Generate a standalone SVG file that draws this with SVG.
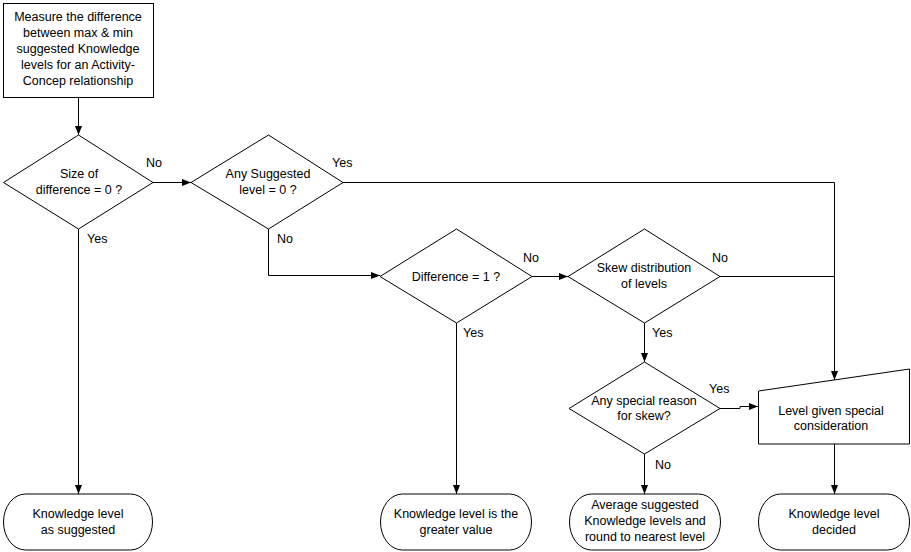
<svg xmlns="http://www.w3.org/2000/svg" width="911" height="552" viewBox="0 0 911 552">
<style>
.s{fill:#fff;stroke:#000;stroke-width:1}
.c{fill:none;stroke:#000;stroke-width:1}
text{font-family:"Liberation Sans",Arial,sans-serif;font-size:12.5px;fill:#000}
.m{text-anchor:middle}
</style>
<defs>
<marker id="a" markerWidth="9" markerHeight="7" refX="9" refY="3.5" orient="auto" markerUnits="userSpaceOnUse">
<path d="M0,0 L9,3.5 L0,7 Z" fill="#000"/>
</marker>
</defs>
<rect width="911" height="552" fill="#fff"/>
<g id="connectors">
<path class="c" d="M78.5,97 V135" marker-end="url(#a)"/>
<path class="c" d="M153,182.5 H191" marker-end="url(#a)"/>
<path class="c" d="M343,182.5 H834.5 V380" marker-end="url(#a)"/>
<path class="c" d="M268.5,229 V275.5 H380" marker-end="url(#a)"/>
<path class="c" d="M532,276.5 H568" marker-end="url(#a)"/>
<path class="c" d="M720,276.5 H834.5"/>
<path class="c" d="M644.5,323 V362" marker-end="url(#a)"/>
<path class="c" d="M720,408.5 H740 V406.5 H758" marker-end="url(#a)"/>
<path class="c" d="M78.5,229 V494" marker-end="url(#a)"/>
<path class="c" d="M456.5,323 V494" marker-end="url(#a)"/>
<path class="c" d="M644.5,454 V494" marker-end="url(#a)"/>
<path class="c" d="M834.5,444 V494" marker-end="url(#a)"/>
</g>
<g id="labels">
<text x="146" y="167">No</text>
<text x="332" y="167">Yes</text>
<text x="87" y="243">Yes</text>
<text x="277" y="243">No</text>
<text x="523" y="262">No</text>
<text x="712" y="262">No</text>
<text x="463" y="337">Yes</text>
<text x="652" y="337">Yes</text>
<text x="709" y="393">Yes</text>
<text x="655" y="469">No</text>
</g>
<g id="start">
<rect class="s" x="3.5" y="3.5" width="150" height="94"/>
<text class="m" x="78" y="21">Measure the difference</text>
<text class="m" x="78" y="37">between max &amp; min</text>
<text class="m" x="78" y="53">suggested Knowledge</text>
<text class="m" x="78" y="69">levels for an Activity-</text>
<text class="m" x="78" y="85">Concep relationship</text>
</g>
<g id="d1">
<path class="s" d="M78.5,135 L153,182.5 L78.5,229 L3.5,182.5 Z"/>
<text class="m" x="79" y="178">Size of</text>
<text class="m" x="79" y="194">difference = 0 ?</text>
</g>
<g id="d2">
<path class="s" d="M268.5,135 L343,182.5 L268.5,229 L191,182.5 Z"/>
<text class="m" x="268" y="178">Any Suggested</text>
<text class="m" x="268" y="194">level = 0 ?</text>
</g>
<g id="d3">
<path class="s" d="M456.5,229 L532,276.5 L456.5,323 L380,276.5 Z"/>
<text class="m" x="456" y="281">Difference = 1 ?</text>
</g>
<g id="d4">
<path class="s" d="M644.5,229 L720,276.5 L644.5,323 L568,276.5 Z"/>
<text class="m" x="644" y="272">Skew distribution</text>
<text class="m" x="644" y="288">of levels</text>
</g>
<g id="d5">
<path class="s" d="M644.5,362 L720,408.5 L644.5,454 L569,408.5 Z"/>
<text class="m" x="644" y="405">Any special reason</text>
<text class="m" x="644" y="420">for skew?</text>
</g>
<g id="special">
<path class="s" d="M758.5,391 L909.5,369 V444 H758.5 Z"/>
<text class="m" x="831" y="415">Level given special</text>
<text class="m" x="831" y="430">consideration</text>
</g>
<g id="t1">
<rect class="s" x="3.5" y="494" width="149" height="56" rx="22" ry="28"/>
<text class="m" x="78" y="518">Knowledge level</text>
<text class="m" x="78" y="534">as suggested</text>
</g>
<g id="t2">
<rect class="s" x="380.5" y="494" width="151" height="56" rx="22" ry="28"/>
<text class="m" x="456" y="518">Knowledge level is the</text>
<text class="m" x="456" y="534">greater value</text>
</g>
<g id="t3">
<rect class="s" x="569.5" y="494" width="151" height="56" rx="22" ry="28"/>
<text class="m" x="645" y="509">Average suggested</text>
<text class="m" x="645" y="525">Knowledge levels and</text>
<text class="m" x="645" y="541">round to nearest level</text>
</g>
<g id="t4">
<rect class="s" x="758.5" y="494" width="151" height="56" rx="22" ry="28"/>
<text class="m" x="834" y="518">Knowledge level</text>
<text class="m" x="834" y="534">decided</text>
</g>
</svg>
